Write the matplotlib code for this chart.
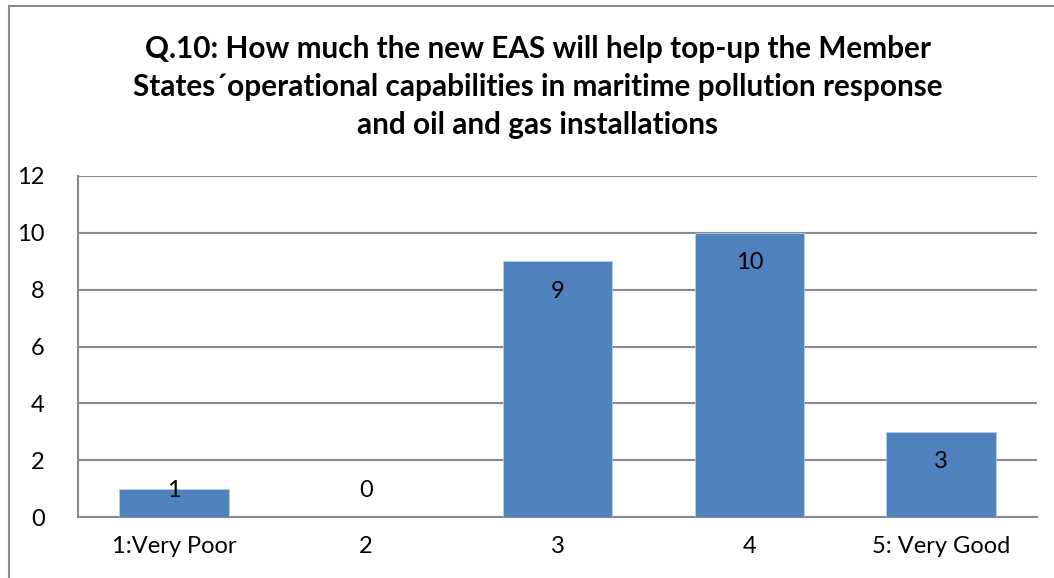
import matplotlib
matplotlib.use("Agg")
import matplotlib.pyplot as plt
from matplotlib.patches import Rectangle

categories = ["1:Very Poor", "2", "3", "4", "5: Very Good"]
values = [1, 0, 9, 10, 3]
yticks = [0, 2, 4, 6, 8, 10, 12]
title = ("Q.10: How much the new EAS will help top-up the Member\n"
         "States\u00b4operational capabilities in maritime pollution response\n"
         "and oil and gas installations")

plt.rcParams['font.family'] = ['Lato', 'DejaVu Sans']

W, H = 1054, 578
fig = plt.figure(figsize=(W / 100, H / 100), dpi=100)
fig.patch.set_facecolor("white")

# chart-area border
fig.add_artist(Rectangle((9 / W, -0.1), 1.2, (H - 6) / H + 0.1, transform=fig.transFigure,
                         fill=False, edgecolor="#8c8c8c", linewidth=1.5))

ax = fig.add_axes([78 / W, (H - 517) / H, (1037 - 78) / W, (517 - 176) / H])
x = list(range(len(categories)))
ax.bar(x, values, width=0.57, color="#4F81BD", edgecolor="#B9CDE5", linewidth=0.6, zorder=3)
ax.set_xlim(-0.5, len(categories) - 0.5)
ax.set_ylim(0, 12)
ax.set_yticks(yticks)
ax.set_xticks(x)
ax.set_xticklabels(categories)
ax.tick_params(axis="both", length=0, labelsize=17, colors="black")
ax.tick_params(axis="y", pad=24)
ax.tick_params(axis="x", pad=14)
ax.yaxis.grid(True, color="#8a8a8a", linewidth=1.5, zorder=0)
ax.set_axisbelow(True)
for s in ["top", "right"]:
    ax.spines[s].set_visible(False)
for s in ["left", "bottom"]:
    ax.spines[s].set_color("#8a8a8a")
    ax.spines[s].set_linewidth(1.5)

for xi, v in zip(x, values):
    ly = max(v - 1.06, 0.92)
    ax.text(xi, ly, str(v), ha="center", va="center", fontsize=17, color="black", zorder=4)

fig.text(538 / W, 1 - 87 / H, title, ha="center", va="center", fontsize=21.4,
         fontweight="bold", linespacing=1.42)

fig.savefig("out.png", dpi=100)
